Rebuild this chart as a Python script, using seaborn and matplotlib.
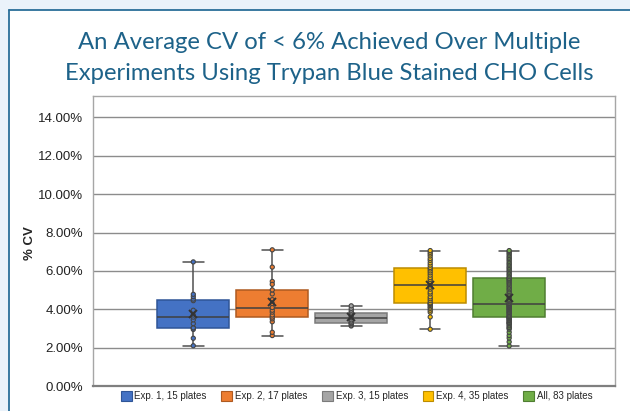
import matplotlib
matplotlib.use('Agg')
import matplotlib.pyplot as plt
from matplotlib.patches import Patch, Rectangle
from matplotlib.lines import Line2D
import pandas as pd
import seaborn as sns

series = ['Exp. 1, 15 plates', 'Exp. 2, 17 plates', 'Exp. 3, 15 plates',
          'Exp. 4, 35 plates', 'All, 83 plates']
colors = ['#4472C4', '#ED7D31', '#A5A5A5', '#FFC000', '#70AD47']
edges = ['#2F5597', '#AE5A21', '#7B7B7B', '#BC8C00', '#507E32']

# % CV per plate
exp1 = [2.10, 2.49, 2.95, 3.03, 3.03, 3.25, 3.45, 3.59, 3.70, 3.95, 4.45, 4.53,
        4.66, 4.78, 6.47]
exp2 = [2.63, 2.80, 3.35, 3.50, 3.59, 3.70, 3.85, 3.95, 4.09, 4.30, 4.50, 4.80,
        5.01, 5.45, 5.30, 6.20, 7.10]
exp3 = [3.13, 3.18, 3.25, 3.30, 3.30, 3.38, 3.45, 3.55, 3.60, 3.68, 3.80, 3.86,
        3.95, 4.05, 4.18]
exp4 = [2.96, 3.60, 3.85, 3.95, 4.05, 4.12, 4.20, 4.26, 4.30, 4.34, 4.45, 4.55,
        4.65, 4.80, 4.90, 5.05, 5.15, 5.27, 5.35, 5.45, 5.55, 5.65, 5.78, 5.90,
        6.00, 6.10, 6.18, 6.30, 6.42, 6.55, 6.65, 6.78, 6.88, 6.97, 7.06]
all_plates = [2.09, 2.30, 2.50, 2.63, 2.80, 2.96, 3.03, 3.05, 3.13, 3.18, 3.25,
              3.28, 3.30, 3.32, 3.38, 3.42, 3.45, 3.50, 3.53, 3.56, 3.59,
              3.59, 3.62, 3.66, 3.70, 3.75, 3.80, 3.83, 3.86, 3.90, 3.95, 3.98,
              4.02, 4.05, 4.09, 4.12, 4.15, 4.18, 4.20, 4.24, 4.27, 4.30,
              4.34, 4.40, 4.45, 4.52, 4.60, 4.70, 4.78, 4.85, 4.92, 5.01, 5.07,
              5.15, 5.22, 5.30, 5.36, 5.42, 5.48, 5.53, 5.58, 5.62,
              5.62, 5.70, 5.78, 5.85, 5.93, 6.00, 6.07, 6.14, 6.20, 6.28, 6.35,
              6.42, 6.50, 6.58, 6.65, 6.72, 6.80, 6.88, 6.95, 7.02, 7.06]

values = [exp1, exp2, exp3, exp4, all_plates]
df = pd.DataFrame({
    'series': [s for s, v in zip(series, values) for _ in v],
    'cv': [x for v in values for x in v],
})

sns.set_style('white')
plt.rcParams['font.family'] = ['Liberation Sans', 'DejaVu Sans']

fig = plt.figure(figsize=(6.3, 4.11), dpi=100)
fig.patch.set_facecolor('#EAF2FA')
fig.patches.append(Rectangle((8.5 / 630, 0), 1, 1 - 10 / 411, transform=fig.transFigure,
                             facecolor='white', edgecolor='none', zorder=-10))
fig.lines.append(Line2D([8.5 / 630, 8.5 / 630], [0, 1 - 10 / 411], transform=fig.transFigure,
                        color='#2A6E99', lw=1.3, zorder=-9))
fig.lines.append(Line2D([8.5 / 630, 1], [1 - 10 / 411, 1 - 10 / 411], transform=fig.transFigure,
                        color='#2A6E99', lw=1.3, zorder=-9))

ax = fig.add_axes([93 / 630, 25 / 411, 522 / 630, 290 / 411])

sns.boxplot(data=df, x='series', y='cv', hue='series', palette=colors, saturation=1,
            width=0.91, whis=1.5, showfliers=False, linewidth=1.1, linecolor='#404040',
            legend=False, ax=ax, zorder=3)

# darker outlines like the original
for p, ec in zip(ax.patches, edges):
    p.set_edgecolor(ec)
    p.set_zorder(3)
for ln in ax.lines:
    x = ln.get_xdata()
    y = ln.get_ydata()
    ln.set_zorder(3.5)
    if len(x) == 2 and y[0] == y[1] and abs(x[1] - x[0]) < 0.6:
        c = (x[0] + x[1]) / 2
        ln.set_xdata([c - 0.13, c + 0.13])
        ln.set_color('#505050')
    elif len(x) == 2 and x[0] == x[1]:
        ln.set_color('#505050')

sns.stripplot(data=df, x='series', y='cv', hue='series', palette=colors, jitter=False,
              size=3, linewidth=0.8, edgecolor='#454545', legend=False, ax=ax, zorder=4)
sns.pointplot(data=df, x='series', y='cv', estimator='mean', errorbar=None,
              markers='x', linestyle='none', color='#333333', markersize=5.5,
              markeredgewidth=1.4, ax=ax, zorder=5)

ax.set_xlim(-1.27, 5.34)
ax.set_ylim(0, 15.12)
ax.set_yticks(range(0, 15, 2))
ax.set_yticklabels([f'{t:.2f}%' for t in range(0, 15, 2)], fontsize=9.5, color='#222222')
ax.set_xticks([])
ax.set_xlabel('')
ax.set_ylabel('')
ax.tick_params(axis='y', length=0, pad=7)
ax.yaxis.grid(True, color='#8C8C8C', lw=1)
ax.set_axisbelow(True)
for s in ['top', 'right', 'left']:
    ax.spines[s].set_color('#A6A6A6')
    ax.spines[s].set_linewidth(1)
ax.spines['bottom'].set_color('#7F7F7F')
ax.spines['bottom'].set_linewidth(1.6)

fig.text(30 / 630, 1 - 243 / 411, '% CV', rotation=90, ha='center', va='center',
         fontsize=9.5, fontweight='bold')

fig.text(329 / 630, 1 - 58 / 411,
         'An Average CV of < 6% Achieved Over Multiple\nExperiments Using Trypan Blue Stained CHO Cells',
         ha='center', va='center', fontsize=17.2, color='#1D6289', family='Lato',
         linespacing=1.6)

handles = [Patch(facecolor=c, edgecolor=e, lw=0.8) for c, e in zip(colors, edges)]
ax.legend(handles, series, loc='upper center', bbox_to_anchor=(0.505, -0.005), ncol=5,
          frameon=False, fontsize=7, handlelength=1.1, handleheight=1.1,
          handletextpad=0.3, columnspacing=1.5, borderaxespad=0)

fig.savefig('out.png', dpi=100)
